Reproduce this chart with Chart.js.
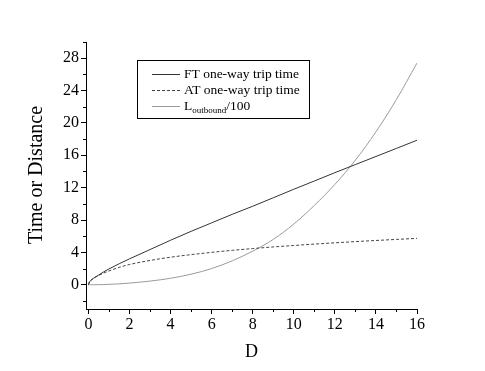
<!DOCTYPE html>
<html>
<head>
<meta charset="utf-8">
<script src="https://cdn.jsdelivr.net/npm/chart.js@4.4.1/dist/chart.umd.min.js"></script>
<style>
    html, body { margin: 0; padding: 0; background: #fff; }
    #wrap { width: 485px; height: 371px; }
</style>
</head>
<body>
<div id="wrap"><canvas id="chart" width="485" height="371"></canvas></div>
<script>
// Data
const dValues = [0, 0.05, 0.1, 0.25, 0.5, 0.75, 1, 1.5, 2, 3, 4, 5, 6, 7, 8, 9, 10, 11, 12, 13, 14, 15, 16];
const ftTime = [0, 0.35, 0.5, 0.8, 1.2, 1.6, 1.95, 2.6, 3.2, 4.35, 5.5, 6.6, 7.65, 8.7, 9.7, 10.75, 11.8, 12.82, 13.85, 14.85, 15.85, 16.85, 17.86];
const atTime = [0, 0.35, 0.5, 0.8, 1.15, 1.45, 1.7, 2.15, 2.5, 3.0, 3.4, 3.72, 4.0, 4.25, 4.47, 4.67, 4.85, 5.02, 5.18, 5.33, 5.47, 5.6, 5.73];
const lOutbound = [0, 0, 0, 0, 0.01, 0.02, 0.05, 0.11, 0.2, 0.45, 0.8, 1.3, 2.0, 2.95, 4.15, 5.6, 7.5, 9.8, 12.4, 15.4, 18.9, 22.9, 27.4];
const yTickLabels = [0, 4, 8, 12, 16, 20, 24, 28];
const xTickLabels = [0, 2, 4, 6, 8, 10, 12, 14, 16];

const SERIF = '"Liberation Serif", "DejaVu Serif", serif';
const toPoints = ys => dValues.map((d, i) => ({ x: d, y: ys[i] }));

// Minor ticks, axis titles and the boxed legend
const extrasPlugin = {
    id: 'extras',
    afterDraw(chart) {
        const ctx = chart.ctx;
        const xs = chart.scales.x;
        const ys = chart.scales.y;
        const area = chart.chartArea;
        ctx.save();
        ctx.strokeStyle = '#000';
        ctx.lineWidth = 1;

        // minor ticks
        ctx.beginPath();
        for (let v = -2; v <= 30; v += 4) {
            const py = Math.round(ys.getPixelForValue(v)) + 0.5;
            ctx.moveTo(area.left, py);
            ctx.lineTo(area.left - 3, py);
        }
        for (let v = 1; v <= 15; v += 2) {
            const px = Math.round(xs.getPixelForValue(v)) + 0.5;
            ctx.moveTo(px, area.bottom);
            ctx.lineTo(px, area.bottom + 3);
        }
        ctx.stroke();

        // axis titles
        ctx.fillStyle = '#000';
        ctx.font = '18px ' + SERIF;
        ctx.textAlign = 'center';
        ctx.textBaseline = 'middle';
        ctx.fillText('D', (area.left + area.right) / 2, 352);
        ctx.save();
        ctx.font = '20px ' + SERIF;
        ctx.translate(37, 175);
        ctx.rotate(-Math.PI / 2);
        ctx.fillText('Time or Distance', 0, 0);
        ctx.restore();

        // legend box
        const bx = 137.5, by = 60.5, bw = 172, bh = 58;
        ctx.lineWidth = 1;
        ctx.strokeStyle = '#000';
        ctx.strokeRect(bx, by, bw, bh);
        const rows = [
            { y: 74, ds: chart.data.datasets[0] },
            { y: 90, ds: chart.data.datasets[1] },
            { y: 106, ds: chart.data.datasets[2] }
        ];
        ctx.textAlign = 'left';
        ctx.textBaseline = 'middle';
        rows.forEach((r, i) => {
            ctx.beginPath();
            ctx.strokeStyle = r.ds.borderColor;
            ctx.setLineDash(r.ds.borderDash || []);
            ctx.moveTo(152, r.y + 0.5);
            ctx.lineTo(180, r.y + 0.5);
            ctx.stroke();
            ctx.setLineDash([]);
            ctx.fillStyle = '#000';
            ctx.font = '13.5px ' + SERIF;
            if (i < 2) {
                ctx.fillText(r.ds.label, 184, r.y);
            } else {
                ctx.fillText('L', 184, r.y);
                const lw = ctx.measureText('L').width;
                ctx.font = '9px ' + SERIF;
                ctx.fillText('outbound', 184 + lw, r.y + 5);
                const sw = ctx.measureText('outbound').width;
                ctx.font = '13.5px ' + SERIF;
                ctx.fillText('/100', 184 + lw + sw, r.y);
            }
        });
        ctx.restore();
    }
};

new Chart(document.getElementById('chart'), {
    type: 'scatter',
    data: {
        datasets: [
            { label: 'FT one-way trip time', data: toPoints(ftTime), borderColor: '#333', borderWidth: 1 },
            { label: 'AT one-way trip time', data: toPoints(atTime), borderColor: '#444', borderWidth: 1, borderDash: [3, 2] },
            { label: 'Loutbound/100', data: toPoints(lOutbound), borderColor: '#9a9a9a', borderWidth: 1 }
        ].map(ds => Object.assign(ds, { showLine: true, pointRadius: 0, fill: false, cubicInterpolationMode: 'monotone' }))
    },
    options: {
        responsive: false,
        animation: false,
        layout: { padding: { left: 0, top: 42, right: 68, bottom: 0 } },
        plugins: { legend: { display: false }, tooltip: { enabled: false } },
        scales: {
            x: {
                type: 'linear',
                min: -0.12,
                max: 16,
                afterFit: s => { s.height = 62; },
                afterBuildTicks: s => { s.ticks = xTickLabels.map(v => ({ value: v })); },
                grid: { drawOnChartArea: false, tickLength: 5, color: '#000' },
                border: { display: true, color: '#000', width: 1 },
                ticks: { color: '#000', font: { family: SERIF, size: 16 }, padding: 1, maxRotation: 0 }
            },
            y: {
                min: -3,
                max: 30,
                afterFit: s => { s.width = 86; },
                afterBuildTicks: s => { s.ticks = yTickLabels.map(v => ({ value: v })); },
                grid: { drawOnChartArea: false, tickLength: 5, color: '#000' },
                border: { display: true, color: '#000', width: 1 },
                ticks: { color: '#000', font: { family: SERIF, size: 16 }, padding: 2 }
            }
        }
    },
    plugins: [extrasPlugin]
});
</script>
</body>
</html>
